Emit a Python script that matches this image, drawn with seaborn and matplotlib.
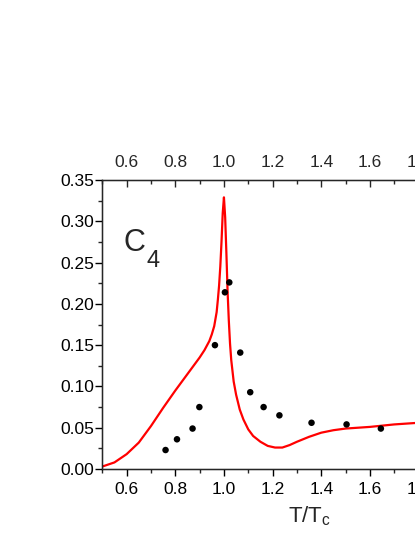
import matplotlib
matplotlib.use("Agg")
import matplotlib.pyplot as plt
import seaborn as sns
import pandas as pd
from matplotlib.ticker import MultipleLocator

# model curve (red line)
curve_t = [0.50, 0.55, 0.60, 0.65, 0.70, 0.75, 0.80, 0.85, 0.88, 0.90, 0.92,
           0.94, 0.95, 0.96, 0.97, 0.975, 0.98, 0.985, 0.99, 0.995, 1.000,
           1.005, 1.010, 1.015, 1.020, 1.025, 1.030, 1.040, 1.050, 1.065,
           1.080, 1.10, 1.12, 1.15, 1.18, 1.21, 1.24, 1.27, 1.30, 1.35, 1.40,
           1.45, 1.50, 1.60, 1.70, 1.80]
curve_c4 = [0.003, 0.008, 0.018, 0.032, 0.052, 0.074, 0.095, 0.115, 0.127,
            0.135, 0.144, 0.155, 0.163, 0.173, 0.190, 0.205, 0.222, 0.245,
            0.275, 0.310, 0.329, 0.305, 0.262, 0.215, 0.180, 0.152, 0.132,
            0.106, 0.090, 0.072, 0.060, 0.048, 0.040, 0.033, 0.028, 0.026,
            0.026, 0.029, 0.033, 0.039, 0.044, 0.047, 0.049, 0.051, 0.054,
            0.056]

# lattice points (black dots)
dots_t = [0.760, 0.807, 0.871, 0.899, 0.963, 1.004, 1.022, 1.067, 1.108,
          1.163, 1.228, 1.360, 1.504, 1.645]
dots_c4 = [0.023, 0.036, 0.049, 0.075, 0.150, 0.214, 0.226, 0.141, 0.093,
           0.075, 0.065, 0.056, 0.054, 0.049]

sns.set_style("ticks")
plt.rcParams['font.family'] = ['Liberation Sans', 'DejaVu Sans']
plt.rcParams['mathtext.fontset'] = 'custom'
plt.rcParams['mathtext.rm'] = 'Liberation Sans'
plt.rcParams['mathtext.it'] = 'Liberation Sans'

df_line = pd.DataFrame({'t': curve_t, 'c4': curve_c4})
df_dots = pd.DataFrame({'t': dots_t, 'c4': dots_c4})

fig = plt.figure(figsize=(4.15, 5.37), dpi=100)
ax = fig.add_axes([0.2465, 0.1266, 0.9966, 0.5382])

sns.lineplot(data=df_line, x='t', y='c4', color='#ff0000', linewidth=1.6,
             estimator=None, sort=False, ax=ax)
sns.scatterplot(data=df_dots, x='t', y='c4', color='black', s=22,
                edgecolor='none', ax=ax, zorder=3)

ax.set_xlim(0.5, 2.2)
ax.set_ylim(0.0, 0.35)
ax.xaxis.set_major_locator(MultipleLocator(0.2))
ax.xaxis.set_minor_locator(MultipleLocator(0.1))
ax.yaxis.set_major_locator(MultipleLocator(0.05))
ax.yaxis.set_minor_locator(MultipleLocator(0.025))
ax.yaxis.set_major_formatter(plt.FormatStrFormatter('%.2f'))
ax.xaxis.set_major_formatter(plt.FormatStrFormatter('%.1f'))
ax.tick_params(which='major', direction='out', length=5, width=1,
               labelsize=12.5, colors='black')
ax.tick_params(which='minor', direction='out', length=3, width=1)
ax.tick_params(axis='y', which='major', pad=1)
ax.tick_params(axis='x', which='major', pad=4)
ax.set_xlabel('T/T$_\\mathregular{c}$', fontsize=16, labelpad=6)
ax.set_ylabel('')
for sp in ax.spines.values():
    sp.set_linewidth(1)
    sp.set_color('black')

# top axis
top = ax.twiny()
top.set_xlim(ax.get_xlim())
top.xaxis.set_major_locator(MultipleLocator(0.2))
top.xaxis.set_minor_locator(MultipleLocator(0.1))
top.xaxis.set_major_formatter(plt.FormatStrFormatter('%.1f'))
top.tick_params(which='major', direction='in', length=5, width=1,
                labelsize=12.5, pad=7)
top.tick_params(which='minor', direction='in', length=3, width=1)

ax.text(0.587, 0.274, 'C', fontsize=22, ha='left', va='center')
ax.text(0.683, 0.252, '4', fontsize=17, ha='left', va='center')

fig.savefig('out.png', dpi=100)
